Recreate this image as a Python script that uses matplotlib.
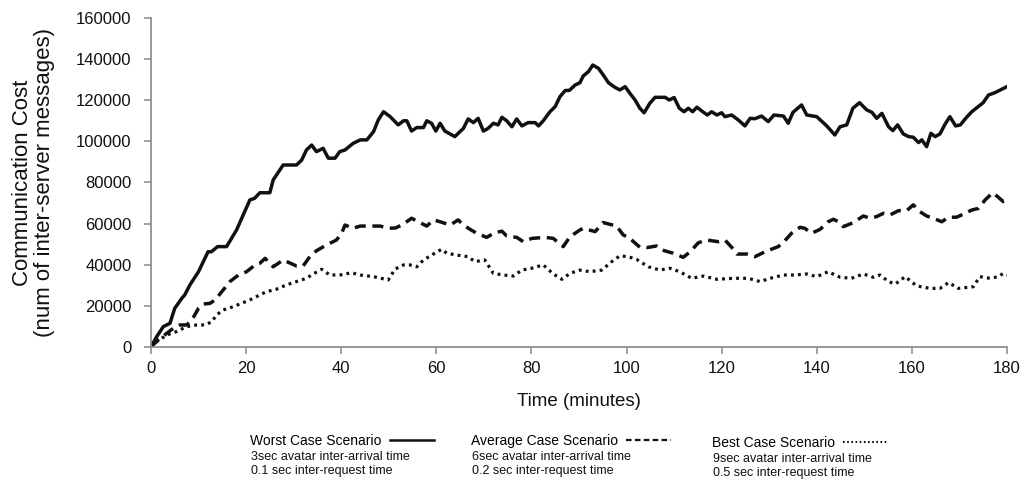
import matplotlib
matplotlib.use('Agg')
import matplotlib.pyplot as plt
from matplotlib.lines import Line2D

plt.rcParams['font.family'] = ['Liberation Sans', 'DejaVu Sans']

# Worst case scenario (solid)
worst_t = [0, 1.2, 2.6, 4, 5, 6.5, 7.1, 8.2, 10, 12, 12.7, 14, 15.9, 18, 20.8, 21.8, 22.9, 25, 25.7, 27.8,
           30.6, 31.7, 32.7, 33.8, 34.8, 36.2, 37.3, 38.7, 39.7, 40.8, 42.5, 44, 45.4, 46.8, 47.8, 48.9, 50.3, 52, 53.1, 53.8,
           54.8, 55.9, 57.3, 58, 59, 59.9, 60.8, 61.8, 63.9, 65.7, 66.7, 67.8, 68.8, 69.9, 70.9, 72, 73, 73.8, 74.8, 75.9,
           76.9, 78, 79.3, 80.8, 81.5, 82.5, 83.9, 85, 86, 87.1, 88, 89.2, 90.2,
           90.9, 92, 92.9, 94.1, 95.1, 96.2, 97.6, 98.6, 99.7, 100.7, 101.8, 102.8, 103.7, 104.9, 106, 108.1, 109, 110, 111.1, 112.1,
           113, 113.9, 114.8, 115.8, 117, 117.9, 119, 120, 120.7, 122.1, 123.5, 124.9, 126, 127, 128.4, 129.8, 131, 133, 134, 135,
           136.8, 137.9, 140, 142.1, 143.8, 144.9, 146.3, 147.6, 149, 150.5, 151.6, 152.6, 153.7, 155.1, 156, 157, 158.2, 159.3, 160.3, 161.4,
           162.1, 163.1, 164, 164.9, 165.9, 167, 168, 169.2, 170.2, 171.5, 172.6, 175, 176.1, 177.5, 178.6, 180]
worst_v = [0, 5000, 9900, 11500, 18800, 23700, 25300, 30200, 36600, 46300, 46300, 48800, 48800, 56900, 71500, 72300, 75000, 75000, 81200, 88500,
           88500, 90900, 95800, 98200, 95000, 96600, 91800, 91800, 95000, 95800, 99000, 100700, 100700, 104700, 110400, 114400, 112000, 108000, 110000, 110000,
           105000, 106700, 106700, 110000, 108800, 105000, 108800, 105000, 102300, 106300, 110900, 109100, 111200, 105000, 106300, 108800, 108000, 111700, 110000, 107100,
           110900, 107500, 109100, 109100, 107500, 110000, 114400, 116900, 121700, 124700, 124800, 127400, 128500,
           131800, 133900, 137100, 135500, 132300, 128500, 126200, 125000, 126600, 123400, 120100, 116100, 113900, 118500, 121400, 121400, 120100, 121300, 116100, 114400,
           116100, 114400, 116600, 114800, 112800, 114400, 112800, 113900, 112000, 112800, 110400, 107500, 111200, 111000, 112300, 109600, 112800, 112300, 108800, 114100,
           117700, 112800, 112000, 107500, 103100, 107100, 108000, 116100, 118800, 115300, 114100, 111200, 113600, 107100, 105200, 108000, 103600, 102300, 102000, 99400,
           100700, 97400, 103900, 102300, 103600, 108400, 112000, 107500, 108000, 111700, 114400, 118800, 122500, 123700, 125000, 126600]

# Average case scenario (dashed)
avg_t = [0, 1.5, 3.3, 4.7, 6.1, 7.5, 8.6, 10, 11, 12.4, 13.5, 14.9, 16.6, 18.4, 20.1, 21.9, 22.9, 24, 25.7, 27.8,
         30.6, 32, 33.4, 34.8, 36.9, 39, 40.1, 40.8, 42.5, 44, 46, 48.2, 49.9, 51.5, 53.1, 54.8, 56.2, 58, 59.4, 60.8,
         62.9, 64.6, 65.7, 67.1, 68.5, 70.6, 72.3, 73.8, 74.8, 76.9, 78.3, 80.1, 82.9, 84.6, 86.7, 88.1, 90.2,
         90.9, 93.4, 95.1, 97.9, 99.3, 100.7, 102.8, 104.2, 106.3, 107.4, 109.8, 111.9, 113.4, 115.1, 116.9, 119.3, 120.7, 122.1, 123.2, 125.3,
         127, 129.1, 131.9, 133.3, 134.7, 136.5, 137.5, 138.9, 140.7, 142.4, 143.5, 144.6, 145.6, 147.7, 149.8, 151.2, 152.6, 154, 155.4, 157.2,
         158.9, 160.3, 161.7, 163.1, 164.5, 166.3, 167.7, 169.4, 171.2, 172.6, 174, 175.4, 177, 178.2, 179.2, 180]
avg_v = [0, 3400, 6600, 9100, 10700, 10700, 13100, 18800, 20900, 21200, 22900, 26900, 31800, 35000, 36600, 39900, 40700, 43100, 39000, 42300,
         39400, 39400, 43900, 46800, 49600, 52000, 55300, 59300, 57700, 58800, 58800, 58800, 57700, 57900, 59800, 62600, 60900, 58800, 61800, 60900,
         59300, 61800, 59300, 57200, 55300, 53300, 55600, 56300, 54000, 53300, 51200, 52800, 53300, 52800, 48800, 53600, 56900,
         57700, 56100, 60500, 58800, 54500, 52800, 48500, 48300, 49100, 47200, 45600, 43600, 46300, 50700, 52000, 51200, 52000, 48500, 45200, 45200,
         43900, 46300, 48800, 51700, 55300, 58200, 57700, 55300, 57200, 60900, 62100, 60900, 58500, 60500, 63700, 62600, 63400, 65000, 64200, 66300,
         66300, 69100, 65800, 63700, 62600, 60900, 63100, 63100, 65000, 66600, 67400, 71500, 75000, 72800, 70700, 71500]

# Best case scenario (dotted)
best_t = [0, 1.2, 3.3, 5.4, 7.5, 9.6, 11.4, 12.8, 13.8, 15.2, 17.3, 18.7, 20.8, 22.9, 24.3, 26.4, 28.5, 30.6, 32.7, 34.1,
          35.9, 37.6, 39.7, 42.2, 44, 46.8, 49.9, 51.3, 53.1, 54.5, 55.9, 57.3, 59.4, 61.1, 62.2, 64.3, 66.7, 68.1, 70.2, 72,
          74.1, 76.2, 78, 80.1, 82.5, 84.6, 86.4, 88.1, 90.2,
          92.3, 94.8, 96.9, 98.6, 100.4, 102.1, 104.6, 107, 109.1, 111.2, 113.7, 116.2, 119, 122.5, 125.6, 128.1, 130.2, 133, 135.4, 137.9,
          140, 142.4, 144.9, 147.3, 149.8, 151.9, 153.3, 155.1, 156.5, 158.6, 161, 163.8, 165.9, 167.7, 169.8, 172.9, 174.3, 176.4, 178.2, 179.2, 180]
best_v = [0, 2600, 5800, 7500, 9900, 10700, 10700, 12300, 15600, 18000, 19600, 20900, 22900, 25300, 26900, 28100, 30200, 31800, 33400, 35500,
          37800, 35000, 35000, 36100, 35000, 34200, 32600, 37800, 39900, 39900, 39000, 42300, 45200, 47500, 45600, 44700, 43900, 41500, 42300, 35800,
          35000, 34500, 37400, 38300, 39900, 35500, 32900, 35800, 37400,
          36600, 37400, 41500, 44300, 43900, 42600, 39000, 37400, 38300, 36600, 33400, 34500, 32900, 33400, 33400, 31800, 33400, 35000, 35000, 35500,
          34200, 36600, 33900, 33400, 35500, 33900, 35000, 31800, 30600, 34200, 29700, 28500, 28500, 31300, 28500, 29300, 34200, 33400, 34200, 35800, 35000]

x_ticks = [0, 20, 40, 60, 80, 100, 120, 140, 160, 180]
y_ticks = [0, 20000, 40000, 60000, 80000, 100000, 120000, 140000, 160000]

scenario_names = ['Worst Case Scenario', 'Average Case Scenario', 'Best Case Scenario']
scenario_notes = [['3sec avatar inter-arrival time', '0.1 sec inter-request time'],
                  ['6sec avatar inter-arrival time', '0.2 sec inter-request time'],
                  ['9sec avatar inter-arrival time', '0.5 sec inter-request time']]

fig = plt.figure(figsize=(10.22, 4.84), dpi=100)
ax = fig.add_axes([0.1477, 0.2831, 0.8376, 0.6798])

ink = '#111111'
ax.plot(worst_t, worst_v, color=ink, lw=2.5, solid_joinstyle='round')
ax.plot(avg_t, avg_v, color=ink, lw=2.5, linestyle=(0, (3.2, 1.9)))
ax.plot(best_t, best_v, color=ink, lw=2.3, linestyle=(0, (0.9, 1.3)))

ax.set_xlim(0, 180)
ax.set_ylim(0, 160000)
ax.set_xticks(x_ticks)
ax.set_yticks(y_ticks)
for s in ['top', 'right']:
    ax.spines[s].set_visible(False)
for s in ['left', 'bottom']:
    ax.spines[s].set_color('#888888')
    ax.spines[s].set_linewidth(1.2)
ax.tick_params(direction='out', length=5, width=1.1, color='#888888', labelsize=12, labelcolor='#111111')
ax.tick_params(axis='x', pad=5)
ax.tick_params(axis='y', pad=9)

ax.set_xlabel('Time (minutes)', fontsize=13.5, color='#111111')
ax.xaxis.set_label_coords(0.5, -0.14)
ax.set_ylabel('Communication Cost\n(num of inter-server messages)', fontsize=16, color='#111111', linespacing=1.05)
ax.yaxis.set_label_coords(-0.112, 0.5)

# legend: three blocks below the axes
handle_styles = [dict(lw=1.8), dict(lw=1.6, linestyle=(0, (2.5, 1.5))), dict(lw=1.5, linestyle=(0, (0.8, 1.2)))]
block_x = [251, 472, 713]
block_y = [441, 441, 443]
for name, notes, hs, bx, by in zip(scenario_names, scenario_notes, handle_styles, block_x, block_y):
    h = Line2D([], [], color=ink, **hs)
    leg = fig.legend([h], [name], loc='center left', bbox_to_anchor=(bx / 1022 - 0.001, 1 - by / 484),
                     frameon=False, markerfirst=False, fontsize=10, borderpad=0, borderaxespad=0,
                     handlelength=3.2, handletextpad=0.6)
    fig.text(bx / 1022, 1 - (by + 16) / 484, notes[0], fontsize=9, va='center', color='#111111')
    fig.text(bx / 1022, 1 - (by + 30) / 484, notes[1], fontsize=9, va='center', color='#111111')

fig.savefig('out.png', dpi=100)
